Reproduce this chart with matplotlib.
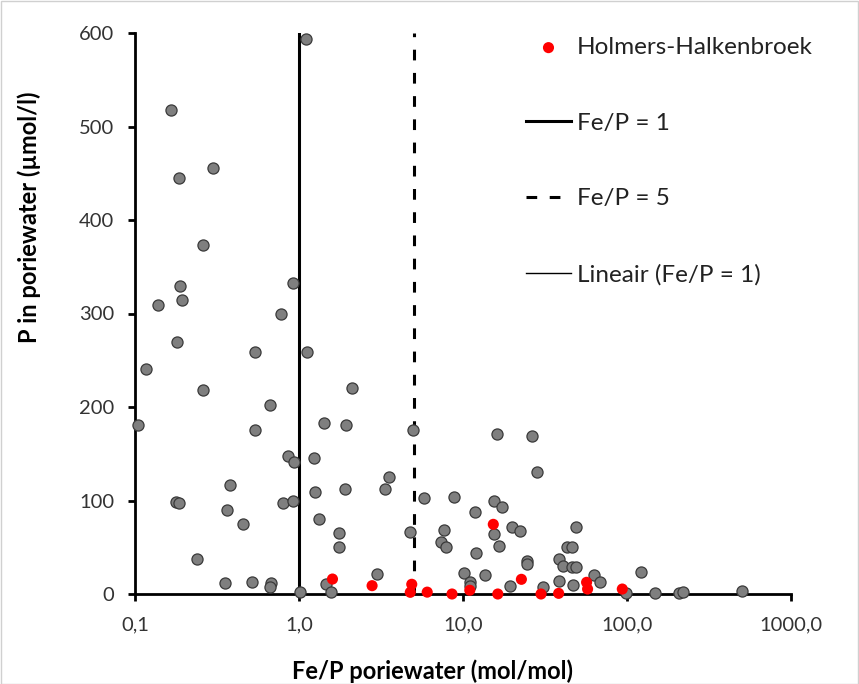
import matplotlib
matplotlib.use("Agg")
import matplotlib.pyplot as plt
from matplotlib.patches import Rectangle
from matplotlib.ticker import FixedLocator, FixedFormatter, NullLocator

plt.rcParams['font.family'] = ['Lato', 'DejaVu Sans']

# Grey points (all sites): Fe/P ratio and P concentration
grey_x = [1.10, 0.166, 0.300, 0.186, 0.259, 0.189, 0.193, 0.139, 0.923, 0.780,
          0.181, 0.117, 0.539, 1.114, 0.259, 2.09, 0.668, 0.105, 0.541, 1.43,
          1.93, 4.95, 0.86, 0.932, 1.24, 3.52, 3.34, 1.91, 1.25, 0.381,
          0.178, 0.185, 0.802, 0.916, 5.8, 0.365, 0.457, 1.32, 1.76, 1.76,
          4.77, 7.69, 7.31, 7.87, 0.238, 3.0, 0.354, 0.515, 0.675, 0.668,
          1.02, 1.46, 1.56,
          16.05, 26.3, 28.4, 8.85, 15.5, 17.4, 11.8, 20.0, 22.2, 48.7,
          15.4, 16.6, 12.0, 43.3, 46.4, 38.3, 24.5, 24.5, 40.9, 46.4, 48.7,
          10.1, 13.7, 121.6, 63.1, 68.4, 11.0, 11.0, 19.3, 38.5, 47.1,
          30.9, 98.2, 148.0, 208.6, 218.6, 505.0]
grey_y = [593.6, 517.6, 456.0, 444.6, 373.0, 329.0, 314.0, 309.0, 332.6, 299.5,
          269.0, 240.6, 258.5, 258.5, 218.0, 220.0, 202.5, 180.7, 175.7, 182.5,
          180.7, 175.0, 147.6, 140.8, 145.8, 124.8, 112.3, 112.3, 108.8, 116.6,
          98.4, 97.0, 97.6, 99.8, 102.3, 89.8, 74.9, 80.5, 65.2, 50.0,
          66.0, 68.4, 56.0, 50.0, 37.8, 21.4, 12.1, 12.8, 12.1, 7.2,
          2.0, 10.7, 1.8,
          171.0, 168.7, 131.0, 103.7, 99.1, 92.7, 87.4, 71.7, 67.4, 72.0,
          64.2, 51.7, 44.2, 50.0, 50.0, 37.8, 35.3, 31.7, 29.9, 28.9, 28.5,
          22.8, 20.6, 23.9, 20.3, 13.2, 13.2, 8.6, 8.6, 13.6, 10.0,
          7.2, 0.7, 0.7, 0.7, 1.8, 3.2]

# Red points: Holmers-Halkenbroek
red_x = [1.60, 2.79, 4.87, 4.77, 6.05, 8.57, 11.0, 15.3, 22.7, 16.3,
         29.9, 38.3, 56.7, 57.5, 93.6]
red_y = [16.0, 8.9, 10.4, 1.8, 2.0, 0.0, 4.0, 74.5, 15.7, 0.0,
         0.0, 0.7, 12.5, 5.3, 5.3]

# Reference lines
line1_x = [1, 1]
line5_x = [5, 5]
line_y = [0, 600]

xticks = [0.1, 1, 10, 100, 1000]
xticklabels = ['0,1', '1,0', '10,0', '100,0', '1000,0']
yticks = [0, 100, 200, 300, 400, 500, 600]

W, H = 859, 684
fig = plt.figure(figsize=(W / 100, H / 100), dpi=100)
ax = fig.add_axes([135 / W, 1 - 594 / H, (791 - 135) / W, (594 - 33) / H])

ax.scatter(grey_x, grey_y, s=64, facecolor='#7f7f7f', edgecolor='#3a3a3a',
           linewidths=0.9, zorder=3, clip_on=False)
ax.scatter(red_x, red_y, s=64, facecolor='#ff0000', edgecolor='none',
           zorder=4, clip_on=False, label='Holmers-Halkenbroek')
ax.plot(line1_x, line_y, color='black', lw=2.2, zorder=2, label='Fe/P = 1')
ax.plot(line5_x, line_y, color='black', lw=2.2, ls=(0, (3.5, 4.1)), zorder=2,
        label='Fe/P = 5')
ax.plot(line1_x, line_y, color='black', lw=1, zorder=2,
        label='Lineair (Fe/P = 1)')

ax.set_xscale('log')
ax.set_xlim(0.1, 1000)
ax.set_ylim(0, 600)
ax.xaxis.set_major_locator(FixedLocator(xticks))
ax.xaxis.set_major_formatter(FixedFormatter(xticklabels))
ax.xaxis.set_minor_locator(NullLocator())
ax.set_yticks(yticks)

for s in ['top', 'right']:
    ax.spines[s].set_visible(False)
for s in ['left', 'bottom']:
    ax.spines[s].set_linewidth(2)
ax.tick_params(axis='both', which='major', direction='out', length=5,
               width=2, labelsize=14.5, colors='black')
ax.tick_params(axis='y', pad=10)
ax.tick_params(axis='x', pad=11)
for lbl in ax.get_xticklabels() + ax.get_yticklabels():
    lbl.set_color('#333333')

ax.set_xlabel('Fe/P poriewater (mol/mol)', fontsize=17, fontweight='bold')
ax.set_ylabel('P in poriewater (µmol/l)', fontsize=17, fontweight='bold')
ax.xaxis.set_label_coords((432 - 135) / 656, (594 - 671) / 561)
ax.xaxis.label.set_va('center')
ax.yaxis.set_label_coords((29 - 135) / 656, (594 - 217) / 561)
ax.yaxis.label.set_va('center')

leg = ax.legend(loc='upper left', bbox_to_anchor=(526 / W, 1 - 37 / H),
                bbox_transform=fig.transFigure, frameon=False, fontsize=17.5,
                handlelength=1.85, handletextpad=0.25, labelspacing=2.25,
                borderpad=0, borderaxespad=0, markerscale=1.0)
for t in leg.get_texts():
    t.set_color('#222222')

fig.patches.append(Rectangle((0.5 / W, 0.5 / H), 1 - 1.5 / W, 1 - 1.5 / H,
                             transform=fig.transFigure, fill=False,
                             edgecolor='#d0d0d0', lw=1))

fig.savefig('out.png', dpi=100)
